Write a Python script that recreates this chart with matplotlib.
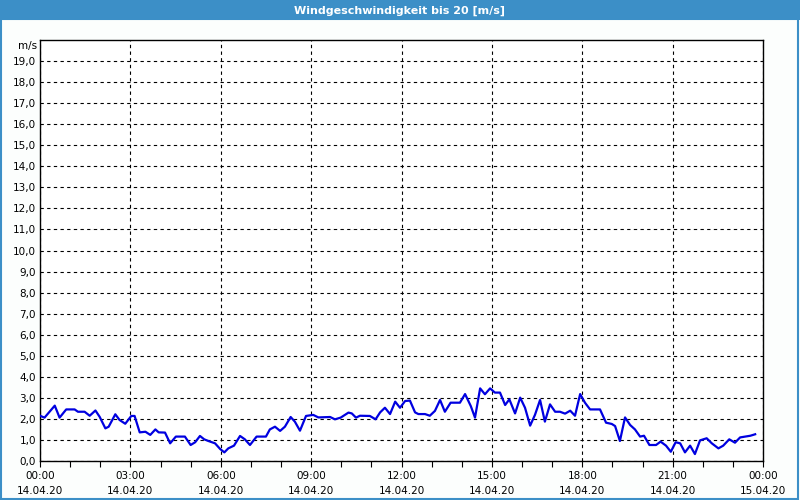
import matplotlib
matplotlib.use("Agg")
import matplotlib.pyplot as plt
from matplotlib.patches import Rectangle
from matplotlib.ticker import MultipleLocator

# wind speed readings, hours since 14.04.20 00:00
hours = [0.0, 0.15, 0.49, 0.65, 0.87, 1.15, 1.26, 1.48, 1.65, 1.84, 1.98, 2.17, 2.28,
         2.5, 2.64, 2.83, 3.03, 3.14, 3.31, 3.5, 3.66, 3.83, 3.94, 4.15, 4.32, 4.51,
         4.81, 5.0, 5.15, 5.31, 5.45, 5.59, 5.81, 5.98, 6.12, 6.25, 6.44, 6.64, 6.8,
         6.97, 7.19, 7.5, 7.63, 7.8, 7.97, 8.13, 8.32, 8.46, 8.63, 8.83, 9.07, 9.24,
         9.63, 9.79, 9.98, 10.24, 10.35, 10.49, 10.62, 10.95, 11.14, 11.29, 11.45,
         11.62, 11.79, 11.95, 12.12, 12.28, 12.45, 12.56, 12.78, 12.94, 13.11, 13.28,
         13.44, 13.63, 13.94, 14.11, 14.3, 14.44, 14.61, 14.77, 14.94, 15.1, 15.27,
         15.44, 15.58, 15.77, 15.94, 16.1, 16.27, 16.43, 16.6, 16.76, 16.93, 17.1,
         17.26, 17.43, 17.6, 17.76, 17.93, 18.09, 18.26, 18.59, 18.79, 18.98, 19.09,
         19.25, 19.42, 19.59, 19.75, 19.92, 20.05, 20.23, 20.45, 20.6, 20.78, 20.94,
         21.1, 21.25, 21.41, 21.58, 21.74, 21.91, 22.13, 22.3, 22.52, 22.68, 22.88,
         23.07, 23.24, 23.41, 23.58, 23.74]
speed = [2.15, 2.06, 2.63, 2.06, 2.45, 2.45, 2.34, 2.34, 2.15, 2.40, 2.10, 1.55, 1.63,
         2.22, 1.95, 1.77, 2.14, 2.14, 1.36, 1.39, 1.24, 1.50, 1.36, 1.35, 0.84, 1.16,
         1.16, 0.76, 0.89, 1.19, 1.03, 0.95, 0.84, 0.57, 0.41, 0.60, 0.73, 1.19, 1.03,
         0.76, 1.16, 1.16, 1.50, 1.63, 1.43, 1.63, 2.09, 1.87, 1.44, 2.14, 2.19, 2.07,
         2.09, 1.98, 2.06, 2.30, 2.26, 2.06, 2.15, 2.14, 1.98, 2.31, 2.53,
         2.23, 2.82, 2.53, 2.85, 2.87, 2.31, 2.23, 2.23, 2.15, 2.38, 2.90,
         2.34, 2.77, 2.77, 3.18, 2.61, 2.06, 3.45, 3.17, 3.45, 3.25, 3.25,
         2.66, 2.93, 2.26, 3.01, 2.53, 1.68, 2.19, 2.90, 1.87, 2.69, 2.34,
         2.34, 2.25, 2.39, 2.15, 3.18, 2.77, 2.45, 2.45, 1.82, 1.76, 1.66,
         0.95, 2.07, 1.71, 1.50, 1.16, 1.20, 0.76, 0.76, 0.92, 0.73, 0.44,
         0.89, 0.84, 0.41, 0.73, 0.33, 0.98, 1.08, 0.84, 0.60, 0.73, 1.03,
         0.87, 1.12, 1.16, 1.20, 1.27]

tick_hours = [0, 3, 6, 9, 12, 15, 18, 21, 24]
tick_labels = ["00:00\n14.04.20", "03:00\n14.04.20", "06:00\n14.04.20", "09:00\n14.04.20",
               "12:00\n14.04.20", "15:00\n14.04.20", "18:00\n14.04.20", "21:00\n14.04.20",
               "00:00\n15.04.20"]
y_ticks = list(range(0, 20))

plt.rcParams['font.family'] = ['DejaVu Sans']
fig = plt.figure(figsize=(8, 5), dpi=100, facecolor='#fcfefd')
blue = '#3c8fc7'

# header bar and frame
fig.patches.append(Rectangle((0, 0.96), 1, 0.04, transform=fig.transFigure,
                             facecolor=blue, edgecolor='none', zorder=0))
fig.patches.append(Rectangle((0.001, 0.002), 0.997, 0.96, transform=fig.transFigure,
                             facecolor='none', edgecolor=blue, linewidth=1.5, zorder=0))
fig.text(0.5, 0.979, "Windgeschwindigkeit bis 20 [m/s]", color='white',
         fontsize=8, fontweight='bold', ha='center', va='center')

ax = fig.add_axes([0.05, 0.078, 0.90375, 0.842])
ax.plot(hours, speed, color='#0000e0', linewidth=1.6, zorder=3)
ax.set_xlim(0, 24)
ax.set_ylim(0, 20)
ax.set_xticks(tick_hours)
ax.set_xticklabels(tick_labels, fontsize=7.5, linespacing=1.6)
ax.xaxis.set_minor_locator(MultipleLocator(1))
ax.set_yticks(y_ticks)
ax.set_yticklabels([f"{v},0" for v in y_ticks], fontsize=7.5)
ax.tick_params(axis='x', which='both', direction='out', length=4, width=0.8, pad=3)
ax.tick_params(axis='y', length=0, pad=3)
ax.grid(True, which='major', color='black', linestyle=(0, (3, 3)), linewidth=0.8)
for s in ax.spines.values():
    s.set_linewidth(1.0)
ax.text(-0.004, 19.7, "m/s", transform=ax.get_yaxis_transform(), ha='right',
        va='center', fontsize=7.5)

plt.savefig('out.png', dpi=100, facecolor=fig.get_facecolor())
